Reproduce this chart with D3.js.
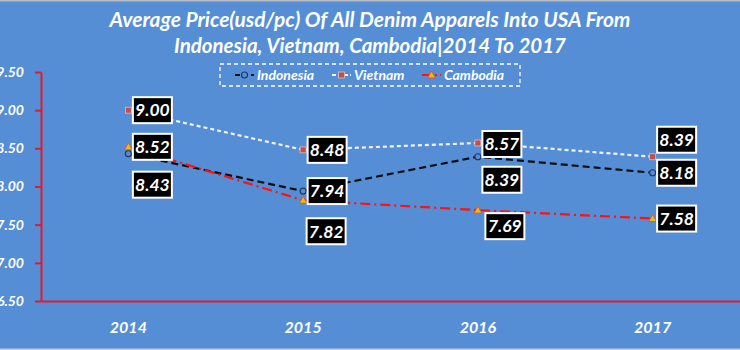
<!DOCTYPE html>
<html>
<head>
<meta charset="utf-8">
<script src="https://cdn.jsdelivr.net/npm/d3@7"></script>
<style>
  html, body { margin: 0; padding: 0; background: #558ED5; }
  svg { display: block; }
  text { font-family: Lato, "Open Sans", sans-serif; font-weight: bold; font-style: italic; fill: #ffffff; }
</style>
</head>
<body>
<svg id="chart" width="740" height="350"></svg>
<script>
// ---- data ----
const years = ["2014", "2015", "2016", "2017"];
const indonesia = [8.43, 7.94, 8.39, 8.18];
const vietnam = [9.00, 8.48, 8.57, 8.39];
const cambodia = [8.52, 7.82, 7.69, 7.58];
const yTicks = [6.5, 7.0, 7.5, 8.0, 8.5, 9.0, 9.5];
const seriesNames = ["Indonesia", "Vietnam", "Cambodia"];
const titleLines = ["Average Price(usd/pc) Of All Denim Apparels Into USA From",
                    "Indonesia, Vietnam, Cambodia|2014 To 2017"];

// label placement (box centre offset from point), kept separate from data
const labelOffsets = {
  Indonesia: [[24, 31], [24, 0], [24, 23], [24, 0]],
  Vietnam:   [[24, 0], [24, 0], [24, 1], [24, -17]],
  Cambodia:  [[24, 0], [23, 31], [27, 16], [24, 0]]
};

const W = 740, H = 350;
const svg = d3.select("#chart");

svg.append("rect").attr("x", 0).attr("y", 0).attr("width", W).attr("height", H).attr("fill", "#558ED5");
svg.append("rect").attr("x", 0).attr("y", 0).attr("width", W).attr("height", 1.5).attr("fill", "#b9bcc2");
svg.append("rect").attr("x", 0).attr("y", H - 1.5).attr("width", W).attr("height", 1.5).attr("fill", "#c9ccd2");

// ---- title ----
const titleTargets = [521, 392];
const titleY = [27, 53];
titleLines.forEach((t, i) => {
  const el = svg.append("text")
    .attr("x", 370).attr("y", titleY[i])
    .attr("text-anchor", "middle")
    .style("font-size", "19px")
    .text(t);
  const len = el.node().getComputedTextLength();
  el.style("font-size", (19 * titleTargets[i] / len).toFixed(2) + "px");
});

// ---- scales ----
const x = d3.scaleBand().domain(years).range([41, 740]);
const cx = d => x(d) + x.bandwidth() / 2;
const y = d3.scaleLinear().domain([6.5, 9.5]).range([301, 72]);

const axisRed = "#e3192f";

// y axis
const gy = svg.append("g").attr("transform", "translate(41,0)")
  .call(d3.axisLeft(y).tickValues(yTicks).tickSize(6).tickSizeOuter(0).tickPadding(11).tickFormat(d3.format(".2f")));
gy.select(".domain").attr("stroke", axisRed).attr("stroke-width", 2);
gy.selectAll(".tick line").attr("stroke", axisRed).attr("stroke-width", 2);
gy.selectAll(".tick text").attr("fill", "#fff").style("font-size", "14px")
  .style("font-family", "Lato, sans-serif").style("font-weight", "bold").style("font-style", "italic");

// x axis
const gx = svg.append("g").attr("transform", "translate(0,301)")
  .call(d3.axisBottom(x).tickSize(0).tickPadding(21));
gx.select(".domain").attr("stroke", axisRed).attr("stroke-width", 2);
gx.selectAll(".tick text").attr("fill", "#fff").style("font-size", "16px")
  .style("font-family", "Lato, sans-serif").style("font-weight", "bold").style("font-style", "italic");

// ---- series ----
const seriesData = { Indonesia: indonesia, Vietnam: vietnam, Cambodia: cambodia };
const styles = {
  Indonesia: { stroke: "#0d0d0d", dash: "7,4", width: 2.2 },
  Vietnam:   { stroke: "#f2f2f2", dash: "4,3", width: 2.2 },
  Cambodia:  { stroke: "#ff1111", dash: "10,4,2,4", width: 2.2 }
};

const line = d3.line().x((d, i) => cx(years[i])).y(d => y(d));

function drawMarker(g, name, px, py) {
  if (name === "Indonesia") {
    g.append("circle").attr("cx", px).attr("cy", py).attr("r", 3)
      .attr("fill", "#558ED5").attr("stroke", "#1f3a68").attr("stroke-width", 1.2);
  } else if (name === "Vietnam") {
    g.append("rect").attr("x", px - 3).attr("y", py - 3).attr("width", 6).attr("height", 6)
      .attr("fill", "#c0504d").attr("stroke", "#e6b9b8").attr("stroke-width", 0.8);
  } else {
    g.append("path").attr("d", `M${px},${py - 4}L${px + 4},${py + 3}L${px - 4},${py + 3}Z`)
      .attr("fill", "#d9c21a").attr("stroke", "#e8503a").attr("stroke-width", 1);
  }
}

const gLines = svg.append("g");
seriesNames.forEach(name => {
  const st = styles[name];
  gLines.append("path").datum(seriesData[name])
    .attr("d", line)
    .attr("fill", "none")
    .attr("stroke", st.stroke)
    .attr("stroke-width", st.width)
    .attr("stroke-dasharray", st.dash);
});
const gMarkers = svg.append("g");
seriesNames.forEach(name => {
  seriesData[name].forEach((v, i) => drawMarker(gMarkers, name, cx(years[i]), y(v)));
});

// ---- data labels ----
const gLabels = svg.append("g");
const bw = 39, bh = 26;
seriesNames.forEach(name => {
  seriesData[name].forEach((v, i) => {
    const [dx, dy] = labelOffsets[name][i];
    const bx = cx(years[i]) + dx, by = y(v) + dy;
    gLabels.append("rect")
      .attr("x", bx - bw / 2).attr("y", by - bh / 2).attr("width", bw).attr("height", bh)
      .attr("fill", "#000").attr("stroke", "#ffffff").attr("stroke-width", 2);
    gLabels.append("text")
      .attr("x", bx).attr("y", by).attr("dy", "0.36em")
      .attr("text-anchor", "middle")
      .style("font-size", "17.5px")
      .text(d3.format(".2f")(v));
  });
});

// ---- legend ----
const lg = svg.append("g");
lg.append("rect").attr("x", 220).attr("y", 64).attr("width", 300).attr("height", 22)
  .attr("fill", "none").attr("stroke", "#ffffff").attr("stroke-width", 1.3).attr("stroke-dasharray", "4,3");
const legendX = [235, 332, 422];
seriesNames.forEach((name, i) => {
  const st = styles[name];
  const x0 = legendX[i], x1 = x0 + 19, ly = 75;
  lg.append("line").attr("x1", x0).attr("x2", x1).attr("y1", ly).attr("y2", ly)
    .attr("stroke", st.stroke).attr("stroke-width", st.width)
    .attr("stroke-dasharray", name === "Cambodia" ? "10,3,2,3" : (name === "Vietnam" ? "4,2" : "5,3"));
  drawMarker(lg, name, (x0 + x1) / 2, ly);
  lg.append("text").attr("x", x1 + 3).attr("y", ly).attr("dy", "0.35em")
    .style("font-size", "14px").text(name);
});
</script>
</body>
</html>
